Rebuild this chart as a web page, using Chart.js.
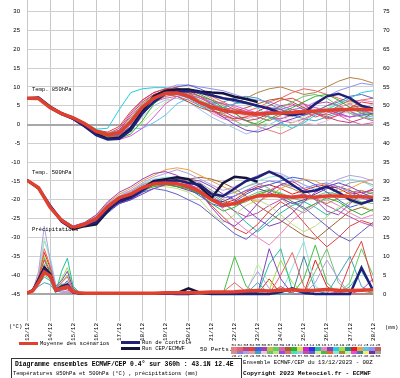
<!DOCTYPE html>
<html>
<head>
<meta charset="utf-8">
<script src="https://cdn.jsdelivr.net/npm/chart.js@4.4.1/dist/chart.umd.min.js"></script>
<style>
body { margin: 0; background: #fff; width: 400px; height: 378px; overflow: hidden; position: relative;
       font-family: "Liberation Mono", "DejaVu Sans Mono", monospace; color: #000; }
#wrap { position: absolute; left: 0; top: 0; width: 400px; }
.t { position: absolute; white-space: nowrap; line-height: 1; font-size: 5.5px; }
.ln { position: absolute; height: 3px; }
#perts { position: absolute; left: 231px; top: 343px; }
.col { position: absolute; top: 0; width: 6px; text-align: center; font-size: 4px; line-height: 1; }
.cell { width: 6px; height: 3.5px; }
#box { position: absolute; left: 11px; top: 358px; width: 229px; height: 24px; border: 1px solid #333; }
</style>
</head>
<body>
<div id="wrap"><canvas id="canvas" width="400" height="345"></canvas></div>

<div class="t" style="left:32px;top:87px;">Temp. 850hPa</div>
<div class="t" style="left:32px;top:170px;">Temp. 500hPa</div>
<div class="t" style="left:32px;top:227px;">Précipitations</div>
<div class="t" style="left:9px;top:324px;">(°C)</div>
<div class="t" style="left:385px;top:325px;">(mm)</div>

<div class="ln" style="left:19px;top:342px;width:19px;background:#e04030;"></div>
<div class="t" style="left:40px;top:341px;">Moyenne des scénarios</div>
<div class="ln" style="left:121px;top:341px;width:19px;background:#202078;"></div>
<div class="t" style="left:142px;top:340px;">Run de contrôle</div>
<div class="ln" style="left:121px;top:347px;width:19px;background:#14143c;"></div>
<div class="t" style="left:142px;top:346px;">Run CEP/ECMWF</div>
<div class="t" style="left:200px;top:347px;font-size:6px;">50 Perts.</div>
<div id="perts"></div>

<div id="box"></div>
<div class="t" style="left:15px;top:362px;font-size:6.4px;font-weight:bold;">Diagramme ensembles ECMWF/CEP 0.4° sur 360h : 43.1N 12.4E</div>
<div class="t" style="left:13px;top:371px;">Températures 850hPa et 500hPa (°C) , précipitations (mm)</div>
<div class="t" style="left:243px;top:360px;font-size:5.7px;">Ensemble ECMWF/CEP du 13/12/2023 - 00Z</div>
<div class="t" style="left:243px;top:371px;font-size:6.1px;font-weight:bold;">Copyright 2023 Meteociel.fr - ECMWF</div>

<script>
// time axis, hours from 13/12 00Z
const dateLabels = ['13/12','14/12','15/12','16/12','17/12','18/12','19/12','20/12','21/12','22/12','23/12','24/12','25/12','26/12','27/12','28/12'];
const hoursT = [0,12,24,36,48,60,72,84,96,108,120,132,144,156,168,180,192,204,216,228,240,252,264,276,288,300,312,324,336,348,360];
const hoursP = [0,6,12,18,24,30,36,42,48,54,60,66,72,84,96,108,120,132,144,156,168,180,192,204,216,228,240,252,264,276,288,300,312,324,336,348,360];

// 850 hPa
const mean850 = [7.0,6.9,4.5,2.9,1.8,0.2,-1.8,-2.7,-2.2,0.7,4.6,7.0,8.3,8.4,7.5,5.8,4.6,3.8,3.3,3.0,2.8,3.0,3.1,3.2,3.4,3.6,3.8,3.9,4.0,4.0,3.9];
const control850 = [7.0,7.0,4.5,2.8,1.5,-0.5,-2.8,-4.0,-3.8,-1.5,3.0,6.0,8.2,8.8,8.9,8.5,7.8,7.0,6.5,5.8,5.0,4.2,3.0,2.5,3.0,5.5,7.5,8.2,7.0,5.0,4.2];
const oper850 = [7.0,7.2,4.8,3.0,1.6,-0.2,-2.5,-3.8,-3.5,-1.0,3.5,7.5,9.0,9.3,9.3,8.8,8.5,8.3,7.4,6.8,6.0];
const members850 = [
  [7.0,6.8,4.6,3.1,2.0,0.5,-1.5,-2.0,-0.5,3.5,6.5,8.5,9.5,9.8,8.5,6.0,4.0,2.5,1.5,2.0,3.5,5.0,6.5,7.0,5.5,3.0,1.5,2.5,4.5,6.0,5.5],
  [7.1,7.0,4.3,2.7,1.6,0.0,-2.2,-3.5,-3.8,-2.5,1.0,5.5,8.0,9.0,9.5,8.0,6.5,4.5,3.0,1.0,0.0,1.5,3.0,4.5,6.0,7.5,8.0,6.5,4.5,3.0,2.5],
  [6.9,6.9,4.7,3.0,1.9,0.4,-1.2,-1.0,4.0,8.5,9.5,9.8,9.8,9.0,7.0,5.0,4.0,4.5,5.5,6.0,4.5,2.0,0.5,-1.0,0.5,2.5,4.0,5.5,7.0,8.5,9.0],
  [7.0,6.7,4.4,2.8,1.7,0.1,-2.0,-3.0,-3.2,-1.5,2.5,6.0,7.5,8.0,8.5,7.5,6.5,5.5,4.0,3.0,2.0,1.0,2.5,4.0,3.5,2.0,3.0,5.0,6.5,5.0,3.5],
  [7.0,7.1,4.8,3.2,2.1,0.6,-1.3,-2.2,-1.8,1.5,5.5,7.5,8.5,8.8,8.0,6.5,5.0,3.0,1.0,-0.5,0.5,2.5,4.5,6.0,7.5,8.0,7.0,5.0,3.0,2.0,1.5],
  [7.0,6.9,4.5,2.9,1.8,0.2,-1.9,-2.9,-2.8,-0.5,4.0,7.0,9.0,10.0,10.5,9.5,8.0,7.0,6.0,5.5,5.0,4.5,4.0,3.0,2.5,3.5,5.0,6.0,7.5,8.0,7.0],
  [7.2,6.8,4.2,2.6,1.5,-0.1,-2.4,-3.6,-4.0,-3.0,-1.0,2.0,5.5,7.5,8.0,7.0,6.0,5.5,5.0,4.0,3.0,3.5,4.0,5.0,5.5,4.5,3.5,2.5,2.0,3.0,4.0],
  [6.9,7.0,4.6,3.0,2.0,0.5,-1.6,-2.5,-1.5,2.5,6.0,8.0,9.0,9.5,9.0,7.5,5.5,3.5,2.0,1.0,1.5,3.0,5.0,5.5,4.0,3.0,2.0,1.0,0.5,1.5,3.0],
  [7.0,6.9,4.5,2.8,1.6,0.0,-2.1,-3.2,-3.0,-1.0,3.0,6.5,8.0,7.5,6.0,4.5,3.5,3.0,3.5,4.5,5.5,6.5,7.0,6.0,4.5,3.0,2.5,3.5,4.5,5.0,4.5],
  [7.1,7.0,4.7,3.1,1.9,0.3,-1.7,-2.6,-2.2,0.5,4.5,7.0,8.5,9.0,8.0,6.0,4.0,2.0,0.0,-1.5,-2.0,-1.0,0.5,1.5,2.5,3.5,4.0,3.0,2.0,2.5,3.0],
  [7.0,6.8,4.4,2.9,1.8,0.2,-1.8,-2.8,-2.5,0.0,4.0,7.5,9.5,10.5,10.5,10.0,9.5,9.0,8.0,7.0,6.5,6.0,5.0,4.0,4.5,6.0,7.5,9.0,10.0,11.0,10.5],
  [6.9,7.0,4.5,3.0,1.8,0.1,-1.9,-2.7,-2.0,1.0,5.0,7.0,8.0,8.5,7.5,5.5,3.5,2.5,2.0,2.5,3.5,3.0,2.0,1.0,0.5,0.0,1.0,2.5,3.5,4.5,5.5],
  [7.0,7.0,4.6,3.0,1.9,0.3,-1.6,-2.4,-1.0,3.0,6.5,8.5,9.5,9.0,7.5,6.0,5.0,4.5,4.0,3.5,3.0,2.0,1.5,2.5,4.0,5.5,6.0,5.0,3.5,2.0,1.0],
  [7.0,6.9,4.4,2.8,1.7,0.1,-2.0,-3.1,-3.5,-2.0,0.5,3.5,6.0,7.5,8.0,7.5,6.5,5.5,4.0,2.5,1.0,0.0,-1.0,0.5,2.0,3.5,4.5,5.5,6.0,5.0,4.0],
  [7.1,6.9,4.5,2.9,1.8,0.2,-1.8,-2.6,-1.5,2.0,5.5,8.0,9.0,9.5,9.0,8.5,7.5,6.0,4.5,3.5,4.5,6.0,7.0,8.5,9.5,9.0,8.0,7.0,6.0,6.5,7.0],
  [7.0,7.0,4.5,2.9,1.8,0.2,-1.8,-2.8,-2.6,-0.5,3.5,6.0,7.0,7.5,6.5,5.0,3.5,2.0,1.5,2.0,2.5,2.0,1.0,0.5,1.5,3.0,3.5,2.5,1.0,0.0,0.5],
  [6.9,6.8,4.6,3.1,2.0,0.4,-1.5,-2.3,-2.0,1.0,5.0,7.5,9.0,9.5,8.0,5.5,3.0,1.5,1.0,1.5,2.5,4.0,5.0,4.0,3.0,2.5,3.5,4.5,5.5,6.5,6.0],
  [7.0,7.1,4.6,3.0,1.9,0.2,-1.9,-3.0,-3.0,-1.0,-1.0,0.5,2.5,5.5,7.0,7.5,6.0,4.0,3.5,3.0,2.5,3.5,4.5,3.5,2.5,3.0,4.0,4.5,3.5,2.5,2.0],
  [7.0,6.9,4.5,2.9,1.8,0.2,-1.7,-2.5,-1.8,1.5,5.0,7.0,8.0,8.0,7.0,6.0,5.5,6.0,7.0,7.5,7.0,5.5,4.0,2.5,1.5,1.0,2.0,3.0,4.0,3.5,3.0],
  [7.0,7.0,4.4,2.8,1.7,0.0,-2.2,-3.4,-3.6,-1.5,2.0,5.0,6.5,7.0,6.0,4.0,2.0,0.5,-1.0,-2.5,-1.5,0.0,1.5,3.0,4.0,4.5,4.0,3.5,3.0,2.0,1.5],
  [7.0,6.9,4.6,3.0,1.8,0.3,-1.7,-2.6,-2.0,1.2,5.0,7.5,8.5,9.0,8.5,7.0,5.5,4.5,5.5,7.0,8.5,9.5,10.0,9.0,8.0,8.5,10.0,11.5,12.5,12.0,11.0],
  [7.0,6.8,4.5,2.9,1.7,0.1,-1.9,-2.9,-2.4,0.5,4.5,7.0,8.5,9.5,9.5,8.5,7.0,5.0,3.0,1.0,-0.5,-1.5,-2.5,-1.0,1.0,3.0,5.0,6.5,5.5,4.0,2.5]
];

// 500 hPa
const mean500 = [-14.8,-16.8,-22.0,-25.5,-27.4,-26.5,-25.0,-21.8,-19.5,-18.5,-16.8,-15.7,-15.5,-15.7,-16.5,-17.8,-20.0,-21.5,-21.0,-19.8,-19.0,-18.8,-19.0,-19.3,-19.1,-19.3,-19.0,-19.0,-19.2,-19.2,-19.3];
const control500 = [-14.8,-16.8,-21.5,-25.5,-27.5,-26.8,-26.0,-22.5,-20.5,-19.5,-17.5,-15.5,-15.0,-14.8,-15.5,-16.0,-18.5,-19.0,-17.0,-15.0,-14.0,-12.5,-13.9,-16.0,-18.0,-17.5,-16.5,-18.0,-20.0,-21.0,-20.0];
const oper500 = [-14.8,-17.0,-21.8,-25.8,-27.8,-27.0,-26.5,-23.0,-20.0,-19.0,-17.0,-15.0,-14.5,-14.0,-14.5,-16.5,-19.5,-15.5,-13.9,-14.2,-15.2];
const members500 = [
  [-14.8,-16.8,-21.5,-25.0,-27.0,-26.0,-24.0,-20.5,-18.0,-16.5,-14.5,-13.0,-12.5,-13.5,-15.5,-18.0,-22.0,-25.5,-27.0,-24.5,-21.0,-18.0,-16.0,-15.0,-17.0,-20.0,-23.0,-24.0,-21.0,-18.5,-17.0],
  [-14.9,-17.2,-22.3,-25.8,-27.6,-27.0,-25.8,-23.0,-21.0,-20.0,-18.5,-17.0,-16.0,-15.0,-14.5,-15.0,-16.5,-18.5,-20.0,-22.5,-25.0,-27.0,-26.0,-23.5,-20.5,-18.0,-16.5,-15.5,-16.5,-18.0,-19.5],
  [-14.7,-16.9,-21.8,-25.3,-27.2,-26.3,-24.5,-21.0,-19.0,-17.5,-15.5,-14.0,-13.0,-12.0,-13.0,-14.5,-16.0,-17.5,-16.5,-15.0,-13.5,-12.5,-13.0,-14.5,-16.0,-17.5,-16.0,-14.5,-13.5,-14.0,-15.0],
  [-14.8,-17.1,-22.2,-25.7,-27.5,-26.8,-25.5,-22.5,-20.0,-19.5,-18.0,-17.0,-17.5,-18.5,-20.0,-21.5,-24.0,-26.5,-29.0,-30.5,-28.0,-25.0,-22.0,-20.5,-22.0,-24.5,-27.0,-29.5,-31.0,-28.5,-26.0],
  [-14.8,-17.0,-21.9,-25.4,-27.3,-26.4,-24.8,-21.5,-19.5,-18.0,-16.0,-15.0,-14.5,-14.0,-14.5,-15.5,-17.5,-19.0,-18.0,-16.5,-15.5,-17.0,-19.5,-22.0,-23.5,-21.5,-19.0,-17.0,-15.5,-15.0,-16.0],
  [-14.9,-17.0,-22.0,-25.6,-27.5,-26.7,-25.3,-22.2,-20.5,-19.0,-17.5,-16.5,-16.0,-16.5,-17.0,-18.5,-21.0,-23.0,-22.0,-20.0,-18.5,-17.5,-18.5,-20.5,-22.5,-21.0,-19.5,-20.5,-22.5,-24.0,-22.5],
  [-14.7,-16.9,-21.7,-25.2,-27.1,-26.1,-24.2,-20.8,-18.5,-17.0,-15.0,-13.5,-12.0,-11.5,-12.0,-13.5,-15.0,-16.5,-18.0,-19.5,-20.5,-19.0,-17.0,-15.5,-14.5,-15.0,-16.5,-18.0,-17.0,-15.5,-14.5],
  [-14.8,-17.1,-22.1,-25.6,-27.4,-26.6,-25.2,-22.0,-19.8,-19.0,-17.5,-16.5,-16.5,-17.0,-18.0,-20.0,-23.5,-26.0,-24.0,-21.5,-20.0,-21.5,-24.0,-26.5,-28.5,-27.0,-24.5,-22.0,-20.5,-21.5,-23.0],
  [-14.8,-17.0,-22.0,-25.5,-27.3,-26.4,-24.9,-21.7,-19.5,-18.2,-16.5,-15.5,-15.0,-14.5,-15.0,-16.0,-18.0,-20.0,-21.5,-20.5,-19.0,-17.5,-16.0,-17.0,-18.5,-20.0,-21.0,-19.5,-18.0,-17.5,-18.5],
  [-14.9,-17.1,-22.2,-25.8,-27.7,-27.1,-26.0,-23.5,-21.0,-20.0,-18.0,-16.0,-15.0,-15.5,-17.0,-19.0,-21.0,-22.0,-20.5,-18.5,-17.0,-16.0,-15.0,-14.0,-14.5,-16.0,-18.0,-20.0,-22.0,-21.0,-19.5],
  [-14.8,-16.9,-21.8,-25.3,-27.2,-26.2,-24.6,-21.2,-19.0,-17.8,-16.0,-15.0,-15.5,-16.0,-16.5,-17.5,-19.5,-22.5,-25.5,-28.0,-30.0,-32.0,-29.0,-25.5,-23.0,-21.0,-20.0,-21.5,-23.5,-25.0,-24.0],
  [-14.7,-17.0,-22.0,-25.4,-27.3,-26.5,-25.0,-21.8,-19.6,-18.6,-17.0,-16.0,-15.5,-15.0,-15.5,-16.5,-18.0,-19.5,-19.0,-17.5,-16.0,-15.0,-15.5,-16.5,-17.0,-16.0,-15.5,-16.5,-18.0,-19.5,-20.5],
  [-14.8,-17.1,-22.1,-25.6,-27.4,-26.6,-25.1,-21.9,-19.7,-18.8,-16.8,-15.5,-15.0,-15.5,-16.0,-17.0,-19.0,-21.0,-23.0,-24.5,-23.5,-21.5,-20.0,-19.0,-18.5,-19.5,-21.5,-23.0,-24.5,-26.0,-27.0],
  [-14.9,-17.0,-21.9,-25.5,-27.4,-26.5,-25.0,-21.8,-19.5,-18.5,-16.8,-15.8,-15.8,-16.5,-17.5,-18.5,-20.0,-20.5,-19.0,-17.5,-17.0,-18.0,-19.5,-21.0,-20.0,-18.5,-17.0,-16.5,-17.5,-19.0,-20.0],
  [-14.8,-17.0,-22.0,-25.5,-27.4,-26.5,-25.0,-21.8,-19.5,-18.5,-16.8,-15.7,-15.3,-15.0,-14.5,-14.0,-14.5,-15.5,-17.0,-19.0,-21.5,-23.5,-25.5,-27.5,-29.5,-30.5,-28.0,-25.5,-23.0,-22.0,-23.0],
  [-14.8,-16.9,-21.9,-25.4,-27.3,-26.4,-24.8,-21.6,-19.3,-18.3,-16.5,-15.3,-14.8,-14.8,-15.8,-17.5,-19.5,-21.0,-20.0,-18.0,-16.5,-16.0,-17.0,-18.5,-17.5,-16.5,-16.0,-17.0,-18.5,-18.0,-17.5],
  [-14.8,-17.0,-22.0,-25.6,-27.5,-26.7,-25.3,-22.3,-20.0,-19.0,-17.3,-16.2,-16.0,-16.3,-17.2,-18.3,-20.2,-21.8,-20.8,-19.3,-18.0,-17.2,-18.2,-19.5,-20.5,-19.0,-18.0,-18.5,-19.5,-20.5,-21.0],
  [-14.7,-16.8,-21.6,-25.1,-27.0,-26.0,-24.2,-20.8,-18.5,-17.5,-15.8,-14.5,-14.0,-14.0,-15.0,-16.5,-18.0,-19.0,-18.0,-16.5,-15.0,-14.0,-13.5,-14.5,-16.0,-17.0,-16.5,-15.5,-14.5,-15.0,-16.5],
  [-14.8,-17.0,-22.0,-25.5,-27.4,-26.6,-25.2,-22.0,-19.8,-18.8,-17.0,-16.0,-15.8,-16.0,-17.0,-18.5,-21.5,-24.5,-27.5,-29.0,-26.5,-23.0,-20.5,-22.5,-26.0,-29.5,-32.5,-30.0,-27.0,-25.5,-26.5],
  [-14.8,-16.9,-21.8,-25.3,-27.2,-26.3,-24.7,-21.4,-19.2,-18.2,-16.4,-15.2,-14.5,-14.2,-15.0,-16.5,-18.5,-20.5,-23.0,-26.0,-28.5,-26.0,-23.5,-21.5,-20.5,-22.0,-24.0,-22.5,-20.5,-19.0,-18.0]
];

// precipitation, mm (right axis)
const meanPrecip = [0.2,0.8,3.0,5.8,4.8,1.0,1.5,1.9,0.6,0.3,0.2,0.2,0.2,0.2,0.2,0.2,0.2,0.2,0.3,0.3,0.3,0.4,0.5,0.5,0.6,0.8,0.9,0.8,1.0,1.1,0.9,1.0,1.2,1.0,0.9,1.0,1.1];
const controlPrecip = [0.2,1.0,3.5,6.6,5.0,1.0,2.0,2.5,0.5,0.2,0.1,0.1,0.1,0.1,0.1,0.1,0.1,0.1,0.1,0.0,0.0,0.3,0.0,0.0,0.0,0.0,0.0,0.0,0.5,1.5,0.3,0.0,0.0,0.0,0.0,7.0,1.0];
const operPrecip = [0.2,0.9,3.8,7.0,5.3,0.8,1.8,2.2,0.4,0.2,0.1,0.1,0.1,0.1,0.1,0.1,0.1,0.1,0.1,0.2,1.5,0.3,0.1,0.1,0.1,0.1,0.1];
const membersPrecip = [
  [0.1,0.6,4.0,12.0,7.5,1.5,3.0,4.5,1.0,0.3,0.1,0,0, 0,0,0,0,0,0,0,0,0,0,0.5,3.0,0.5,0,0,5.0,11.0,2.0,0,0,0.5,0,0,0],
  [0.2,1.0,2.5,4.5,3.5,0.5,6.0,9.5,2.0,0.5,0.2,0.1,0, 0,0,0,0,0,0,0,0.5,0,0,0,0,0,0,8.0,12.0,1.0,0,0,0,0,2.0,6.0,1.0],
  [0.3,0.8,6.0,18.0,9.0,2.0,1.0,0.5,0.2,0.1,0,0,0, 0,0,0,0,0,0,0,0,0,0,0,0,1.0,6.0,1.5,0,0,0,3.0,9.0,4.0,0,0,0],
  [0.1,0.5,3.0,7.0,6.0,1.0,2.0,2.5,0.5,0.2,0.1,0,0, 0,0,0,0,0,0,0,0,0,0,0,10.0,2.0,0,0,0,0,4.0,13.0,3.0,0,0,0,0.5],
  [0.2,1.2,4.5,9.0,5.5,0.8,1.5,1.0,0.3,0.1,0,0,0, 0,0,0,0,0,0,0,0,0,0,0,0,0,0,0,2.0,0,0,0,0,0,8.0,14.0,3.0],
  [0.1,0.7,3.5,5.5,7.0,2.0,3.5,6.0,1.5,0.3,0.1,0,0, 0,0,0,0,0,0,0,0,0,0.5,0,0,0,0,12.0,4.0,0,0,0,0,0,0,0,0],
  [0.2,0.9,2.0,3.0,2.5,0.5,1.0,1.5,0.5,0.2,0.1,0,0, 0,0,0,0,0,0,0,0,0,0,0,0,0,3.0,0,0,0,0,0,0,5.0,10.0,2.0,0],
  [0.1,0.8,5.0,14.0,10.0,2.5,2.0,3.0,0.8,0.2,0,0,0, 0,0,0,0,0,0,0,0,0,0,0,0,0,0,0,0,7.0,14.0,2.0,0,0,0,0,0],
  [0.3,1.0,3.5,6.5,4.0,0.7,0.5,0.5,0.2,0.1,0,0,0, 0,0,0,0,0,0,0,0,0,0,0,0,0,0,0,0,0,0,0,0,0,0,1.0,4.0],
  [0.1,0.6,4.0,10.0,6.5,1.5,4.0,7.0,2.0,0.5,0.1,0,0, 0,0,0,0,0,0,0,0,0,0,0,0,0,0,1.0,9.0,3.0,0,0,0,0,0,0,0],
  [0.2,0.9,3.0,8.0,5.0,1.0,2.5,3.0,0.6,0.2,0,0,0, 0,0,0,0,0,0,0,0,0,0,0,0,0,0,0,0,0,0,6.0,12.0,3.0,0,0,0],
  [0.2,1.1,5.5,15.0,8.5,1.0,1.5,2.0,0.4,0.1,0,0,0, 0,0,0,0,0,0,0,0,0,0,0,0,0,8.0,3.0,0,0,0,0,0,0,0,0,0],
  [0.1,0.7,2.5,5.0,4.0,0.8,3.0,5.0,1.2,0.3,0.1,0,0, 0,0,0,0,0,0,0,0,0,0,0,0,0,0,0,0,0,0,0,0,0,3.0,12.0,5.0],
  [0.2,0.8,3.8,11.0,7.0,1.2,1.0,1.5,0.4,0.1,0,0,0, 0,0,0,0,0,0,0,0,0,0,0,0,0,0,4.0,0,0,0,9.0,2.0,0,0,0,0],
  [0.1,0.6,3.2,7.5,5.0,1.0,2.0,3.5,0.8,0.2,0,0,0, 0,0,0,0,0,0,0,0,0,0,0,0,0,0,0,0,0,0,0,0,0,0,0,0],
  [0.2,1.0,4.2,9.5,6.0,1.2,2.5,2.0,0.5,0.1,0,0,0, 0,0,0,0,0,0,0,0,0,0,0,0,0,0,0,1.5,0,10.0,1.0,0,0,0,0,0]
];

const memberColors = ['#e08080','#f06060','#c04080','#e04040','#4060e0','#a040c0','#c0c040','#60d060','#e060a0','#a06030',
  '#30b030','#e0e040','#d020d0','#3030e0','#20c0a0','#f080c0','#8040c0','#20d0e0','#a0e040','#209090',
  '#e02020','#f0a040','#60c0f0','#9090f0','#c06060','#d09090','#8080e0','#b0a0e0','#e0a0a0','#40a0c0',
  '#f0c0e0','#70c070','#c0e080','#9050e0','#e07070','#50e0b0','#a0c0f0','#c050a0','#6060c0','#e0e0a0',
  '#40c040','#f06030','#90e0e0','#b08040','#c0f0a0','#e050e0','#4080a0','#f0f060','#7030a0','#a0a0a0'];
const meanColor = '#e04030';
const controlColor = '#202078';
const operColor = '#14143c';

function pts(hours, values) {
    return values.map((v, i) => ({x: hours[i], y: v}));
}
function line(hours, values, color, width, axis, order) {
    return {data: pts(hours, values), borderColor: color, borderWidth: width, pointRadius: 0,
            tension: 0, yAxisID: axis, order: order};
}

var datasets = [];
members850.forEach((m, i) => datasets.push(line(hoursT, m, memberColors[(i * 7 + 3) % 50], 1, 'y', 3)));
members500.forEach((m, i) => datasets.push(line(hoursT, m, memberColors[(i * 11 + 5) % 50], 1, 'y', 3)));
membersPrecip.forEach((m, i) => datasets.push(line(hoursP, m, memberColors[(i * 13 + 1) % 50], 1, 'y2', 3)));
datasets.push(line(hoursT, oper850, operColor, 2.5, 'y', 2));
datasets.push(line(hoursT, oper500, operColor, 2.5, 'y', 2));
datasets.push(line(hoursP, operPrecip, operColor, 2.5, 'y2', 2));
datasets.push(line(hoursT, control850, controlColor, 2.5, 'y', 1));
datasets.push(line(hoursT, control500, controlColor, 2.5, 'y', 1));
datasets.push(line(hoursP, controlPrecip, controlColor, 2.5, 'y2', 1));
datasets.push(line(hoursT, mean850, meanColor, 3.5, 'y', 0));
datasets.push(line(hoursT, mean500, meanColor, 3.5, 'y', 0));
datasets.push(line(hoursP, meanPrecip, meanColor, 3.5, 'y2', 0));

const tickFont = {family: 'Liberation Sans', size: 6};
// grid line at 0 and -45 is heavier
const heavy = c => c.tick && (c.tick.value === 0 || c.tick.value === -45);

const chart = new Chart(document.getElementById('canvas').getContext('2d'), {
    type: 'line',
    data: {datasets: datasets},
    options: {
        responsive: false,
        maintainAspectRatio: false,
        animation: false,
        devicePixelRatio: 1,
        layout: {padding: 0},
        plugins: {legend: {display: false}, tooltip: {enabled: false}},
        scales: {
            x: {
                type: 'linear', min: 0, max: 360,
                ticks: {stepSize: 24, maxTicksLimit: 20, autoSkip: false, minRotation: 90, maxRotation: 90,
                        padding: 2, color: '#000', font: {family: 'Liberation Mono', size: 6},
                        callback: v => dateLabels[Math.round(v / 24)]},
                grid: {color: '#c8c8c8', lineWidth: 1, drawTicks: false},
                border: {display: false},
                afterFit: s => { s.height = 24; }
            },
            y: {
                position: 'left', min: -52.2, max: 33.2,
                ticks: {stepSize: 5, maxTicksLimit: 30, padding: 7, color: '#000', font: tickFont,
                        callback: v => (v % 5 === 0 && v >= -45 && v <= 30) ? String(v) : null},
                grid: {drawTicks: false,
                       color: c => heavy(c) ? '#a8a8a8' : '#cfcfcf',
                       lineWidth: c => heavy(c) ? 2 : 1},
                border: {display: false},
                afterFit: s => { s.width = 27; }
            },
            y2: {
                position: 'right', min: -7.2, max: 78.2,
                ticks: {stepSize: 5, maxTicksLimit: 30, padding: 10, color: '#000', font: tickFont,
                        callback: v => (v % 5 === 0 && v >= 0 && v <= 75) ? String(v) : null},
                grid: {display: false, drawTicks: false},
                border: {display: false},
                afterFit: s => { s.width = 27; }
            }
        }
    }
});

// the axes leave some room above the plot; move the canvas up so the plot starts at the page top
const shift = Math.round(chart.chartArea.top);
if (shift > 0) {
    document.getElementById('wrap').style.top = (-shift) + 'px';
    chart.resize(400, 345 + shift);
}

// perturbation colour key, 01-25 over 26-50
const perts = document.getElementById('perts');
for (let i = 0; i < 25; i++) {
    const col = document.createElement('div');
    col.className = 'col';
    col.style.left = (i * 6) + 'px';
    const a = String(i + 1).padStart(2, '0');
    const b = String(i + 26);
    col.innerHTML = '<div>' + a + '</div><div class="cell" style="background:' + memberColors[i] + '"></div>' +
        '<div class="cell" style="background:' + memberColors[i + 25] + '"></div><div>' + b + '</div>';
    perts.appendChild(col);
}
</script>
</body>
</html>
